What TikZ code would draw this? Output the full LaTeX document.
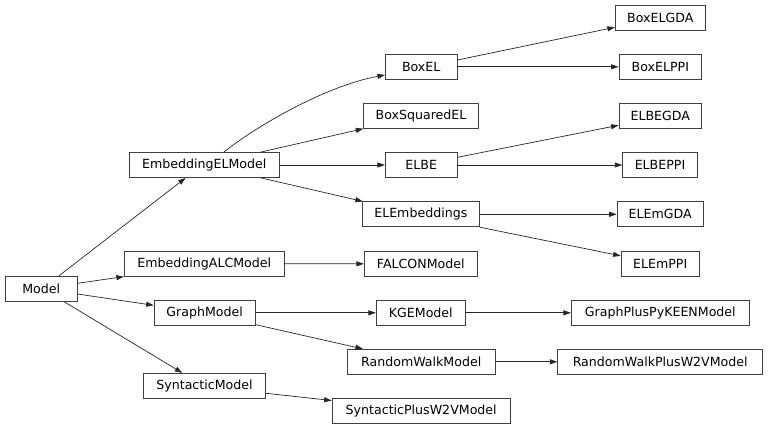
\documentclass[tikz,border=0pt]{standalone}
\usepackage{fontspec}
\setmainfont{DejaVu Sans}
\usetikzlibrary{arrows.meta}
\begin{document}
\begin{tikzpicture}[x=1pt,y=-1pt,
  cls/.style={draw=black!75,line width=0.8pt,minimum height=25pt,inner sep=0pt,
    font=\fontsize{12.6}{14}\selectfont},
  inh/.style={draw=black!85,line width=0.7pt,-{Triangle[length=7.5pt,width=5pt]}}]
\useasboundingbox (0,0) rectangle (768,429);
% column 0
\node[cls,minimum width=71.7pt] (Model) at (41.2,288.7) {Model};
% column 1
\node[cls,minimum width=150pt] (EmbeddingELModel) at (204.3,165) {EmbeddingELModel};
\node[cls,minimum width=160pt] (EmbeddingALCModel) at (204.3,263.7) {EmbeddingALCModel};
\node[cls,minimum width=101.3pt] (GraphModel) at (204.7,312.8) {GraphModel};
\node[cls,minimum width=122.4pt] (SyntacticModel) at (204.5,385.8) {SyntacticModel};
% column 2
\node[cls,minimum width=71.7pt] (BoxEL) at (421.2,66.8) {BoxEL};
\node[cls,minimum width=114.6pt] (BoxSquaredEL) at (421,115.8) {BoxSquaredEL};
\node[cls,minimum width=71.7pt] (ELBE) at (421.2,165) {ELBE};
\node[cls,minimum width=117pt] (ELEmbeddings) at (420.8,214.3) {ELEmbeddings};
\node[cls,minimum width=113pt] (FALCONModel) at (420.8,263.8) {FALCONModel};
\node[cls,minimum width=89pt] (KGEModel) at (420.8,312.8) {KGEModel};
\node[cls,minimum width=147.7pt] (RandomWalkModel) at (421.2,361.8) {RandomWalkModel};
\node[cls,minimum width=178.3pt] (SyntacticPlusW2VModel) at (421.2,411) {SyntacticPlusW2VModel};
% column 3
\node[cls,minimum width=90pt] (BoxELGDA) at (660.3,17.8) {BoxELGDA};
\node[cls,minimum width=82.7pt] (BoxELPPI) at (660.3,66.8) {BoxELPPI};
\node[cls,minimum width=82.7pt] (ELBEGDA) at (660.3,115.8) {ELBEGDA};
\node[cls,minimum width=74.6pt] (ELBEPPI) at (660,165) {ELBEPPI};
\node[cls,minimum width=86.3pt] (ELEmGDA) at (660.2,214.3) {ELEmGDA};
\node[cls,minimum width=78.3pt] (ELEmPPI) at (660.2,263.8) {ELEmPPI};
\node[cls,minimum width=178pt] (GraphPlusPyKEENModel) at (660.3,312.8) {GraphPlusPyKEENModel};
\node[cls,minimum width=205pt] (RandomWalkPlusW2VModel) at (660.2,361.8) {RandomWalkPlusW2VModel};
% edges
\draw[inh] ([xshift=54pt]Model.north west) -- ([xshift=56.7pt]EmbeddingELModel.south west);
\draw[inh] ([yshift=5.4pt]Model.east) -- (EmbeddingALCModel.south west);
\draw[inh] ([yshift=-5.3pt]Model.east) -- ([yshift=7.5pt]GraphModel.west);
\draw[inh] ([xshift=59pt]Model.south west) -- ([xshift=39.4pt]SyntacticModel.north west);
\draw[inh] ([xshift=95pt]EmbeddingELModel.north west) .. controls (255,127) and (325,86) .. ([yshift=-8.2pt]BoxEL.west);
\draw[inh] ([xshift=131.7pt]EmbeddingELModel.north west) -- (BoxSquaredEL.south west);
\draw[inh] (EmbeddingELModel.east) -- (ELBE.west);
\draw[inh] ([xshift=132pt]EmbeddingELModel.south west) -- ([xshift=1pt]ELEmbeddings.north west);
\draw[inh] ([yshift=6.8pt]BoxEL.east) -- ([yshift=-9.5pt]BoxELGDA.west);
\draw[inh] (BoxEL.east) -- (BoxELPPI.west);
\draw[inh] ([yshift=7.7pt]ELBE.east) -- ([yshift=-9.5pt]ELBEGDA.west);
\draw[inh] (ELBE.east) -- (ELBEPPI.west);
\draw[inh] (ELEmbeddings.east) -- (ELEmGDA.west);
\draw[inh] (ELEmbeddings.south east) -- ([yshift=8pt]ELEmPPI.west);
\draw[inh] (EmbeddingALCModel.east) -- (FALCONModel.west);
\draw[inh] (GraphModel.east) -- (KGEModel.west);
\draw[inh] ([yshift=1pt]GraphModel.south east) -- ([xshift=16pt]RandomWalkModel.north west);
\draw[inh] (KGEModel.east) -- (GraphPlusPyKEENModel.west);
\draw[inh] (RandomWalkModel.east) -- (RandomWalkPlusW2VModel.west);
\draw[inh] ([yshift=-7.5pt]SyntacticModel.east) -- ([yshift=-2.4pt]SyntacticPlusW2VModel.north west);
\end{tikzpicture}
\end{document}
